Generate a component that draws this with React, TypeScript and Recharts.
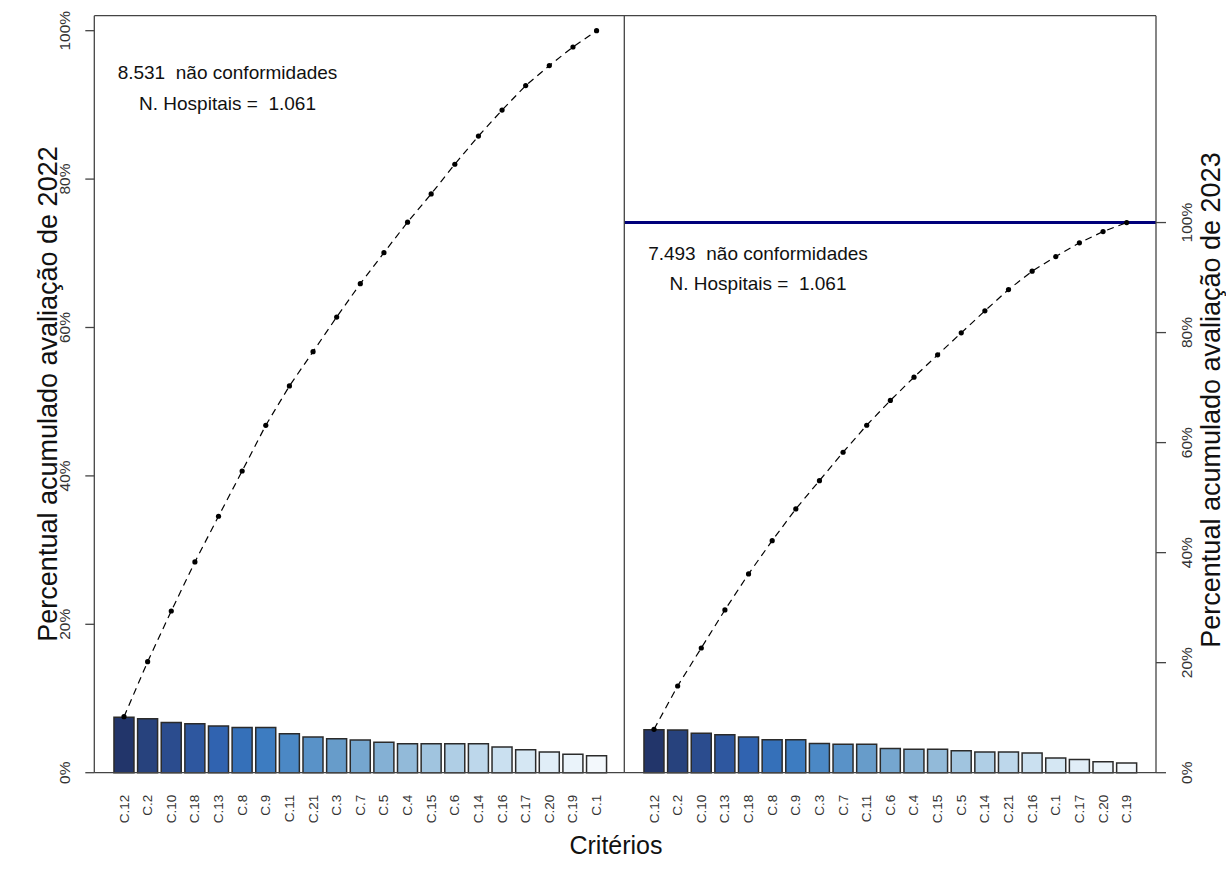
import React from "react";
import {
  ComposedChart,
  Bar,
  Cell,
  Line,
  XAxis,
  YAxis,
  ReferenceLine,
} from "recharts";

// criterios ordenados (pareto) e percentuais
const criterios2022 = [
  "C.12", "C.2", "C.10", "C.18", "C.13", "C.8", "C.9", "C.11", "C.21", "C.3", "C.7",
  "C.5", "C.4", "C.15", "C.6", "C.14", "C.16", "C.17", "C.20", "C.19", "C.1",
];
const percentual2022 = [
  7.46, 7.28, 6.78, 6.6, 6.29, 6.1, 6.1, 5.26, 4.8, 4.58, 4.4,
  4.09, 3.9, 3.9, 3.9, 3.9, 3.46, 3.1, 2.78, 2.47, 2.29,
];
const acumulado2022 = [
  7.55, 14.96, 21.79, 28.4, 34.56, 40.66, 46.82, 52.12, 56.74, 61.41, 65.9,
  70.08, 74.2, 78.0, 82.0, 85.8, 89.3, 92.6, 95.3, 97.8, 100,
];

const criterios2023 = [
  "C.12", "C.2", "C.10", "C.13", "C.18", "C.8", "C.9", "C.3", "C.7", "C.11", "C.6",
  "C.4", "C.15", "C.5", "C.14", "C.21", "C.16", "C.1", "C.17", "C.20", "C.19",
];
const percentual2023 = [
  7.82, 7.76, 7.15, 6.91, 6.48, 6.0, 6.0, 5.33, 5.15, 5.15, 4.42,
  4.24, 4.24, 4.0, 3.76, 3.76, 3.58, 2.67, 2.42, 2.0, 1.76,
];
const acumulado2023 = [
  7.89, 15.76, 22.67, 29.58, 36.13, 42.18, 47.95, 53.09, 58.25, 63.16, 67.67,
  71.89, 75.95, 79.95, 83.95, 87.82, 91.16, 93.82, 96.31, 98.36, 100,
];

const ticksPercentual = [0, 20, 40, 60, 80, 100];

const textos2022 = ["8.531  não conformidades", "N. Hospitais =  1.061"];
const textos2023 = ["7.493  não conformidades", "N. Hospitais =  1.061"];

const corBarras = [
  "#22356a", "#27427d", "#2b4c8e", "#2e579f", "#3063b0", "#3570b9", "#3d7cc1",
  "#4b88c5", "#5992c8", "#679cca", "#75a6cf", "#84b0d4", "#92bad9", "#a0c4df",
  "#afcee5", "#bdd7eb", "#cae0f0", "#d5e7f3", "#e0edf7", "#eaf3fa", "#f3f8fc",
];

const FONTE = "'Liberation Sans', Arial, sans-serif";
const LINHA = { stroke: "#444", strokeWidth: 1.3 };

const monta = (cats: string[], vals: number[], acum: number[]) =>
  cats.map((c, i) => ({ c, v: vals[i], cum: acum[i] }));

const dados2022 = monta(criterios2022, percentual2022, acumulado2022);
const dados2023 = monta(criterios2023, percentual2023, acumulado2023);

const TickY = (props: any) => {
  const { x, y, payload } = props;
  return (
    <text
      x={x}
      y={y}
      transform={`rotate(-90 ${x} ${y})`}
      textAnchor="middle"
      dominantBaseline="central"
      fontSize={15.5}
      fill="#333"
      fontFamily={FONTE}
    >
      {payload.value}%
    </text>
  );
};

const TickX = (props: any) => {
  const { x, y, payload } = props;
  return (
    <text
      x={x}
      y={y}
      transform={`rotate(-90 ${x} ${y})`}
      textAnchor="end"
      dominantBaseline="central"
      fontSize={13.5}
      fill="#333"
      fontFamily={FONTE}
    >
      {payload.value}
    </text>
  );
};

const pontos = { r: 2.6, fill: "#000", stroke: "none" };

const App = () => {
  return (
    <div style={{ position: "absolute", left: 0, top: 0, width: 1226, height: 870, background: "#fff" }}>
      <div style={{ position: "absolute", left: 0, top: 0 }}>
        <ComposedChart
          width={625}
          height={870}
          data={dados2022}
          margin={{ top: 15.7, right: 0.7, bottom: 37.3, left: 0 }}
          barCategoryGap="7.5%"
        >
          <XAxis
            dataKey="c"
            interval={0}
            height={60}
            tickSize={0}
            tickMargin={22}
            tickLine={false}
            axisLine={LINHA}
            tick={<TickX />}
            padding={{ left: 17.9, right: 15.9 }}
          />
          <YAxis
            yAxisId="l"
            domain={[0, 102.02]}
            ticks={ticksPercentual}
            width={94.3}
            tickSize={9}
            tickMargin={20.3}
            tickLine={LINHA}
            axisLine={LINHA}
            tick={<TickY />}
          />
          <Bar yAxisId="l" dataKey="v" stroke="#2b2b2b" strokeWidth={1.5} isAnimationActive={false}>
            {dados2022.map((d, i) => (
              <Cell key={d.c} fill={corBarras[i]} />
            ))}
          </Bar>
          <Line
            yAxisId="l"
            type="linear"
            dataKey="cum"
            stroke="#000"
            strokeWidth={1.2}
            strokeDasharray="7 5"
            dot={pontos}
            activeDot={false}
            isAnimationActive={false}
          />
        </ComposedChart>
      </div>
      <div style={{ position: "absolute", left: 600, top: 0 }}>
        <ComposedChart
          width={626}
          height={870}
          data={dados2023}
          margin={{ top: 15.7, right: 0, bottom: 37.3, left: 24.3 }}
          barCategoryGap="7.5%"
        >
          <XAxis
            dataKey="c"
            interval={0}
            height={60}
            tickSize={0}
            tickMargin={22}
            tickLine={false}
            axisLine={LINHA}
            tick={<TickX />}
            padding={{ left: 17.9, right: 17.5 }}
          />
          <YAxis
            yAxisId="r"
            orientation="right"
            domain={[0, 137.6]}
            ticks={ticksPercentual}
            width={70}
            tickSize={10}
            tickMargin={21}
            tickLine={LINHA}
            axisLine={LINHA}
            tick={<TickY />}
          />
          <ReferenceLine yAxisId="r" y={100} stroke="#00007a" strokeWidth={3} />
          <Bar yAxisId="r" dataKey="v" stroke="#2b2b2b" strokeWidth={1.5} isAnimationActive={false}>
            {dados2023.map((d, i) => (
              <Cell key={d.c} fill={corBarras[i]} />
            ))}
          </Bar>
          <Line
            yAxisId="r"
            type="linear"
            dataKey="cum"
            stroke="#000"
            strokeWidth={1.2}
            strokeDasharray="7 5"
            dot={pontos}
            activeDot={false}
            isAnimationActive={false}
          />
        </ComposedChart>
      </div>
      <svg
        width={1226}
        height={870}
        style={{ position: "absolute", left: 0, top: 0, pointerEvents: "none" }}
        fontFamily={FONTE}
      >
        {/* moldura: borda superior e divisoria entre os paineis */}
        <path d="M94.3 15.7 H1156 M624.3 15.7 V772.7" fill="none" stroke="#444" strokeWidth={1.3} />
        <text x={227.5} y={72} textAnchor="middle" dominantBaseline="central" fontSize={19} fill="#111" style={{ whiteSpace: "pre" }}>
          {textos2022[0]}
        </text>
        <text x={227.5} y={103} textAnchor="middle" dominantBaseline="central" fontSize={19} fill="#111" style={{ whiteSpace: "pre" }}>
          {textos2022[1]}
        </text>
        <text x={758} y={253} textAnchor="middle" dominantBaseline="central" fontSize={19} fill="#111" style={{ whiteSpace: "pre" }}>
          {textos2023[0]}
        </text>
        <text x={758} y={283} textAnchor="middle" dominantBaseline="central" fontSize={19} fill="#111" style={{ whiteSpace: "pre" }}>
          {textos2023[1]}
        </text>
        <text x={57} y={394} transform="rotate(-90 57 394)" textAnchor="middle" fontSize={27} fill="#111">
          Percentual acumulado avaliação de 2022
        </text>
        <text x={1220} y={400} transform="rotate(-90 1220 400)" textAnchor="middle" fontSize={27} fill="#111">
          Percentual acumulado avaliação de 2023
        </text>
        <text x={616} y={854} textAnchor="middle" fontSize={25} fill="#111">
          Critérios
        </text>
      </svg>
    </div>
  );
};

export default App;
